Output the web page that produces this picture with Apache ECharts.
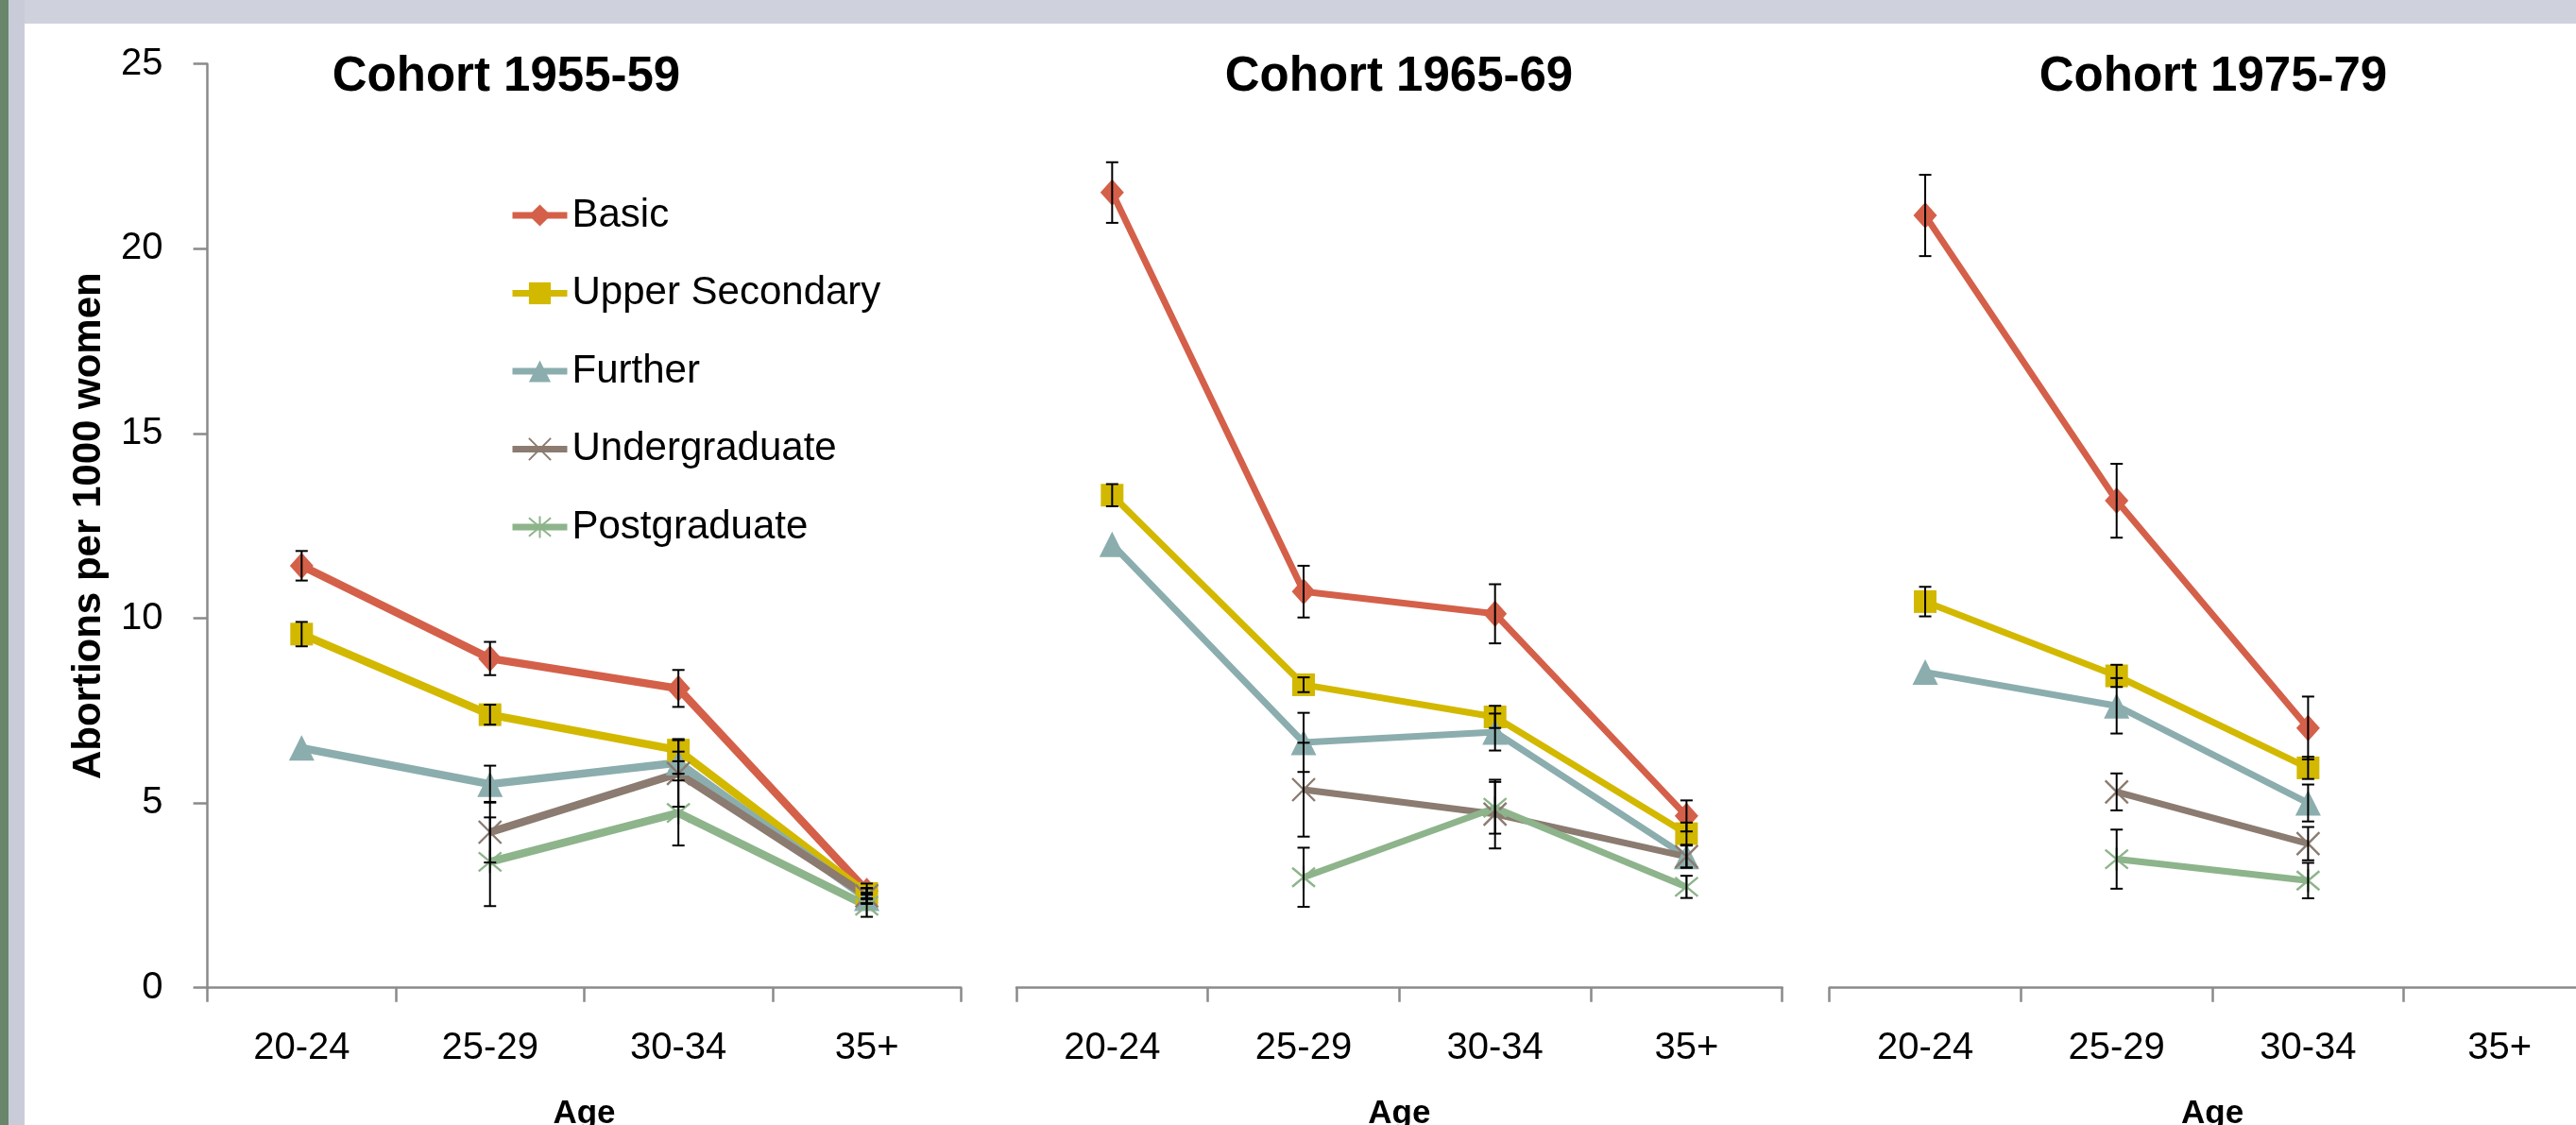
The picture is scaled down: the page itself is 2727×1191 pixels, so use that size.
<!DOCTYPE html>
<html>
<head>
<meta charset="utf-8">
<script src="https://cdn.jsdelivr.net/npm/echarts@6/dist/echarts.min.js"></script>
<style>
html,body{margin:0;padding:0;background:#fff;width:2727px;height:1191px;overflow:hidden;}
#chart{display:block;width:2727px;height:1191px;}
</style>
</head>
<body>
<div id="chart"></div>
<script>
// ---------- DATA ----------
const categories = ['20-24', '25-29', '30-34', '35+'];
const seriesNames = ['Basic', 'Upper Secondary', 'Further', 'Undergraduate', 'Postgraduate'];
const cohortTitles = ['Cohort 1955-59', 'Cohort 1965-69', 'Cohort 1975-79'];
const yAxisTitle = 'Abortions per 1000 women';
const xAxisTitle = 'Age';
const yMin = 0, yMax = 25, yStep = 5;

// Cohort 1955-59 : rates
const basic5559 = [11.42, 8.91, 8.10, 2.62];
const upper5559 = [9.57, 7.39, 6.43, 2.55];
const further5559 = [6.49, 5.51, 6.09, 2.42];
const under5559 = [null, 4.21, 5.80, 2.49];
const post5559 = [null, 3.41, 4.73, 2.22];
// Cohort 1955-59 : error half-widths
const basicErr5559 = [0.40, 0.45, 0.50, 0.20];
const upperErr5559 = [0.33, 0.27, 0.30, 0.15];
const furtherErr5559 = [null, 0.50, 0.30, 0.15];
const underErr5559 = [null, 0.82, 0.90, 0.20];
const postErr5559 = [null, 1.20, 0.88, 0.30];

// Cohort 1965-69 : rates
const basic6569 = [21.52, 10.72, 10.12, 4.65];
const upper6569 = [13.33, 8.20, 7.33, 4.17];
const further6569 = [12.00, 6.64, 6.92, 3.55];
const under6569 = [null, 5.36, 4.70, 3.55];
const post6569 = [null, 2.99, 4.87, 2.73];
// Cohort 1965-69 : error half-widths
const basicErr6569 = [0.82, 0.70, 0.80, 0.42];
const upperErr6569 = [0.30, 0.20, 0.30, 0.30];
const furtherErr6569 = [null, 0.80, 0.50, 0.30];
const underErr6569 = [null, 1.27, 0.93, 0.30];
const postErr6569 = [null, 0.80, 0.70, 0.30];

// Cohort 1975-79 : rates
const basic7579 = [20.90, 13.18, 7.03, null];
const upper7579 = [10.45, 8.44, 5.95, null];
const further7579 = [8.54, 7.63, 5.00, null];
const under7579 = [null, 5.30, 3.90, null];
const post7579 = [null, 3.48, 2.90, null];
// Cohort 1975-79 : error half-widths
const basicErr7579 = [1.10, 1.00, 0.85, null];
const upperErr7579 = [0.40, 0.30, 0.30, null];
const furtherErr7579 = [null, 0.75, 0.50, null];
const underErr7579 = [null, 0.50, 0.45, null];
const postErr7579 = [null, 0.80, 0.48, null];

// ---------- STYLE ----------
const FONT = '"Liberation Sans", Arial, sans-serif';
const colors = ['#D4604A', '#D3B800', '#8BADAD', '#8B7B70', '#8DB48B'];
const symbols = [
  'diamond',
  'rect',
  'triangle',
  'path://M0,0L20,20M20,0L0,20',
  'path://M0,0L20,20M20,0L0,20M10,-2L10,22'
];
const symbolSizes = [[25, 28], 24, 27, 24, 24];

const panels = [
  { rates: [basic5559, upper5559, further5559, under5559, post5559],
    errs: [basicErr5559, upperErr5559, furtherErr5559, underErr5559, postErr5559],
    grid: { left: 219.6, top: 67.7, width: 797.7, height: 978 }, titleX: 536, lw: 8.5, showY: true },
  { rates: [basic6569, upper6569, further6569, under6569, post6569],
    errs: [basicErr6569, upperErr6569, furtherErr6569, underErr6569, postErr6569],
    grid: { left: 1076, top: 67.7, width: 810.7, height: 978 }, titleX: 1481, lw: 7, showY: false },
  { rates: [basic7579, upper7579, further7579, under7579, post7579],
    errs: [basicErr7579, upperErr7579, furtherErr7579, underErr7579, postErr7579],
    grid: { left: 1936.7, top: 67.7, width: 810.7, height: 978 }, titleX: 2343, lw: 7, showY: false }
];

const grids = [], xAxes = [], yAxes = [], series = [], graphics = [];

graphics.push({ type: 'rect', shape: { x: 0, y: 0, width: 2727, height: 25 }, style: { fill: '#CFD1DC' }, silent: true });
graphics.push({ type: 'rect', shape: { x: 0, y: 0, width: 26, height: 1191 }, style: { fill: '#C9CCD8' }, silent: true });
graphics.push({ type: 'rect', shape: { x: 0, y: 0, width: 9, height: 1191 }, style: { fill: '#6A866A' }, silent: true });

panels.forEach((p, pi) => {
  grids.push(Object.assign({ containLabel: false, outerBoundsMode: 'none' }, p.grid));
  xAxes.push({
    type: 'category', gridIndex: pi, data: categories, boundaryGap: true,
    axisLine: { show: true, lineStyle: { color: '#8A8A8A', width: 2.5 } },
    axisTick: { show: true, inside: false, length: 15, alignWithLabel: false, lineStyle: { color: '#8A8A8A', width: 2.5 } },
    axisLabel: { show: true, color: '#000', fontFamily: FONT, fontSize: 40, margin: 44, interval: 0 },
    splitLine: { show: false },
    name: xAxisTitle, nameLocation: 'middle', nameGap: 116,
    nameTextStyle: { color: '#000', fontFamily: FONT, fontWeight: 'bold', fontSize: 35, verticalAlign: 'top' }
  });
  yAxes.push({
    type: 'value', gridIndex: pi, min: yMin, max: yMax, interval: yStep,
    axisLine: { show: p.showY, lineStyle: { color: '#8A8A8A', width: 2.5 } },
    axisTick: { show: p.showY, inside: false, length: 15, lineStyle: { color: '#8A8A8A', width: 2.5 } },
    axisLabel: { show: p.showY, color: '#000', fontFamily: FONT, fontSize: 40, margin: 47 },
    splitLine: { show: false },
    name: p.showY ? yAxisTitle : '', nameLocation: 'middle', nameGap: 104, nameRotate: 90,
    nameTextStyle: { color: '#000', fontFamily: FONT, fontWeight: 'bold', fontSize: 42 }
  });
  graphics.push({
    type: 'text', x: p.titleX, y: 82, silent: true,
    style: { text: cohortTitles[pi], fill: '#000', font: 'bold 51px ' + FONT, align: 'center', verticalAlign: 'middle' }
  });

  const errData = [];
  p.rates.forEach((vals, si) => {
    const isCross = si >= 3;
    series.push({
      type: 'line', name: seriesNames[si], xAxisIndex: pi, yAxisIndex: pi,
      data: vals, symbol: symbols[si], symbolSize: symbolSizes[si], showSymbol: true,
      connectNulls: false, animation: false, z: 3,
      lineStyle: { color: colors[si], width: p.lw },
      itemStyle: isCross
        ? { color: 'rgba(0,0,0,0)', borderColor: colors[si], borderWidth: 2.4 }
        : { color: colors[si], borderWidth: 0 },
      emphasis: { disabled: true }
    });
    p.errs[si].forEach((e, i) => {
      if (e != null && vals[i] != null) errData.push([i, vals[i] - e, vals[i] + e]);
    });
  });
  series.push({
    type: 'custom', name: 'err' + pi, xAxisIndex: pi, yAxisIndex: pi, z: 4, animation: false,
    encode: { x: 0, y: [1, 2] }, data: errData, silent: true,
    renderItem: function (params, api) {
      const x = api.value(0);
      const lo = api.coord([x, api.value(1)]);
      const hi = api.coord([x, api.value(2)]);
      const cx = lo[0], w = 6.5;
      const st = { stroke: '#000', lineWidth: 2 };
      return { type: 'group', children: [
        { type: 'line', shape: { x1: cx, y1: hi[1], x2: cx, y2: lo[1] }, style: st },
        { type: 'line', shape: { x1: cx - w, y1: hi[1], x2: cx + w, y2: hi[1] }, style: st },
        { type: 'line', shape: { x1: cx - w, y1: lo[1], x2: cx + w, y2: lo[1] }, style: st }
      ] };
    }
  });
});

const chart = echarts.init(document.getElementById('chart'), null, { renderer: 'canvas' });
chart.setOption({
  backgroundColor: '#fff',
  animation: false,
  grid: grids, xAxis: xAxes, yAxis: yAxes, series: series,
  legend: {
    data: seriesNames, orient: 'vertical', left: 539, top: 207, padding: 0,
    itemWidth: 58, itemHeight: 29, itemGap: 40.5,
    textStyle: { color: '#000', fontFamily: FONT, fontSize: 42 },
    lineStyle: { width: 7 }
  },
  graphic: graphics
});
</script>
</body>
</html>
